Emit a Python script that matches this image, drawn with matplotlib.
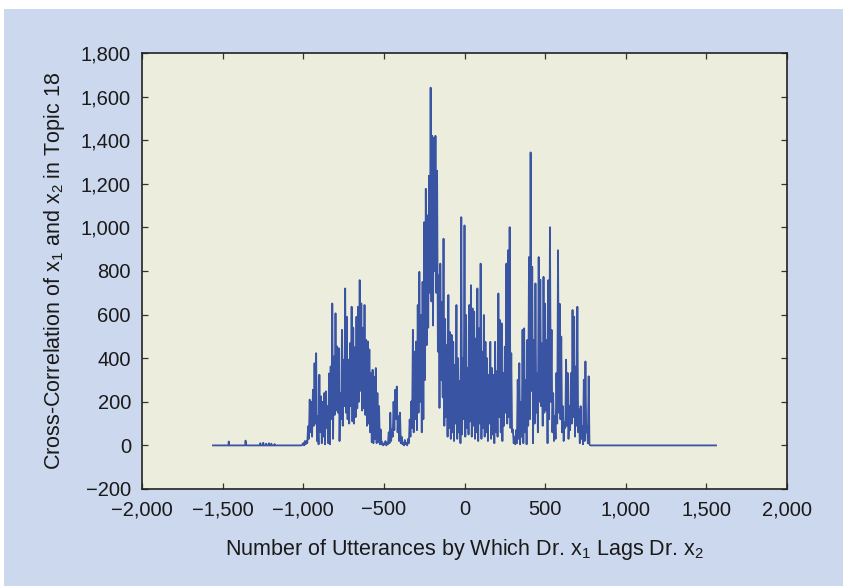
import numpy as np
import matplotlib
matplotlib.use('Agg')
import matplotlib.pyplot as plt
from matplotlib.patches import Rectangle

plt.rcParams['font.family'] = ['Liberation Sans', 'DejaVu Sans']
plt.rcParams['mathtext.fontset'] = 'custom'
plt.rcParams['mathtext.rm'] = 'Liberation Sans'

# left tail: isolated tiny spikes before the active region
tail_lags = [-1560, -1464, -1462, -1460, -1360, -1358, -1355, -1352, -1268, -1266, -1264,
             -1250, -1248, -1246, -1232, -1230, -1228, -1215, -1213, -1210, -1200, -1198,
             -1196, -1180, -1178, -1176, -1010]
tail_vals = [0, 0, 18, 0, 0, 22, 8, 0, 0, 10, 0,
             0, 12, 0, 0, 8, 0, 0, 10, 0, 0, 8,
             0, 0, 6, 0, 0]

# active region: lag -1000 .. 770 in steps of 10, peak at each lag, trough 5 lags later
start_lag = -1000
peaks = [10, 20, 20, 88, 210, 200, 255, 377, 423, 134,
         324, 225, 200, 240, 248, 180, 330, 362, 651, 408,
         606, 454, 446, 240, 530, 393, 720, 590, 393, 469,
         636, 540, 450, 590, 636, 758, 651, 540, 644, 484,
         477, 440, 332, 347, 315, 355, 240, 180, 73, 15,
         5, 20, 10, 60, 150, 73, 200, 255, 270, 134,
         150, 40, 10, 25, 10, 30, 119, 202, 530, 430,
         476, 644, 796, 598, 750, 1024, 1177, 1055, 1237, 1641,
         1420, 1410, 1420, 1260, 780, 834, 659, 948, 580, 460,
         690, 520, 507, 475, 370, 644, 400, 295, 1047, 400,
         1009, 598, 355, 644, 735, 628, 613, 490, 720, 537,
         834, 430, 598, 475, 400, 324, 475, 355, 324, 475,
         340, 697, 575, 560, 332, 453, 834, 895, 1001, 423,
         73, 40, 70, 301, 377, 200, 530, 537, 300, 484,
         864, 1344, 819, 484, 743, 332, 864, 760, 468, 773,
         650, 484, 758, 1001, 530, 240, 135, 332, 895, 650,
         499, 180, 105, 393, 332, 180, 332, 621, 590, 362,
         636, 165, 180, 88, 301, 385, 88, 317]
troughs = [0, 5, 10, 30, 60, 40, 90, 100, 20, 5,
           60, 10, 40, 5, 80, 10, 5, 120, 30, 140,
           160, 150, 20, 120, 90, 180, 150, 120, 100, 180,
           110, 100, 130, 170, 200, 250, 160, 170, 140, 90,
           100, 60, 15, 10, 30, 10, 15, 5, 5, 0,
           5, 0, 5, 10, 20, 40, 70, 120, 60, 20,
           10, 5, 0, 5, 0, 10, 40, 80, 60, 120,
           70, 150, 200, 60, 120, 300, 460, 540, 700, 660,
           550, 800, 700, 430, 172, 300, 220, 90, 130, 40,
           80, 30, 60, 20, 100, 30, 60, 10, 50, 120,
           40, 80, 50, 110, 40, 90, 30, 60, 20, 100,
           30, 80, 40, 60, 20, 100, 30, 50, 10, 60,
           40, 130, 60, 20, 90, 150, 100, 130, 80, 60,
           10, 5, 10, 30, 5, 40, 10, 60, 5, 90,
           120, 250, 10, 100, 150, 60, 200, 180, 90, 150,
           160, 10, 120, 200, 60, 20, 30, 100, 150, 120,
           60, 20, 80, 90, 30, 70, 100, 130, 40, 90,
           60, 10, 30, 5, 20, 60, 10, 5]

# right tail: flat
end_lags = [780, 1560]
end_vals = [0, 0]

xticks = [-2000, -1500, -1000, -500, 0, 500, 1000, 1500, 2000]
xticklabels = ['\u22122,000', '\u22121,500', '\u22121,000', '\u2212500', '0',
               '500', '1,000', '1,500', '2,000']
yticks = [-200, 0, 200, 400, 600, 800, 1000, 1200, 1400, 1600, 1800]
yticklabels = ['\u2212200', '0', '200', '400', '600', '800', '1,000',
               '1,200', '1,400', '1,600', '1,800']

# assemble series
n = len(peaks)
act_lags = np.empty(2 * n)
act_vals = np.empty(2 * n)
act_lags[0::2] = start_lag + 10 * np.arange(n)
act_lags[1::2] = start_lag + 10 * np.arange(n) + 5
act_vals[0::2] = peaks
act_vals[1::2] = troughs
lags = np.concatenate([tail_lags, act_lags, end_lags])
vals = np.concatenate([tail_vals, act_vals, end_vals])

fig = plt.figure(figsize=(8.43, 5.86), dpi=100)
fig.patch.set_facecolor('white')
fig.patches.append(Rectangle((4 / 843, 0), 1, 1 - 9 / 586, transform=fig.transFigure,
                             facecolor='#CCD8EE', edgecolor='none', zorder=-10))

ax = fig.add_axes([142 / 843, 97 / 586, 645 / 843, 436 / 586])
ax.set_facecolor('#EDEDDD')
ax.plot(lags, vals, color='#3A54A4', lw=1.3)

ax.set_xlim(-2000, 2000)
ax.set_ylim(-200, 1800)
ax.set_xticks(xticks)
ax.set_xticklabels(xticklabels)
ax.set_yticks(yticks)
ax.set_yticklabels(yticklabels)
ax.tick_params(direction='in', length=4, width=0.9, color='#333333',
               top=True, right=True, labelsize=14.5, labelcolor='#1a1a1a')
ax.tick_params(axis='x', pad=8)
ax.tick_params(axis='y', pad=8)
for s in ax.spines.values():
    s.set_linewidth(1.2)
    s.set_color('#222222')

ax.set_xlabel(r'Number of Utterances by Which Dr. x$\mathregular{_1}$ Lags Dr. x$\mathregular{_2}$',
              fontsize=15.5, color='#1a1a1a', labelpad=13)
ax.set_ylabel(r'Cross-Correlation of x$\mathregular{_1}$ and x$\mathregular{_2}$ in Topic 18',
              fontsize=15.5, color='#1a1a1a', labelpad=10)

fig.savefig('out.png', dpi=100, facecolor=fig.get_facecolor())
